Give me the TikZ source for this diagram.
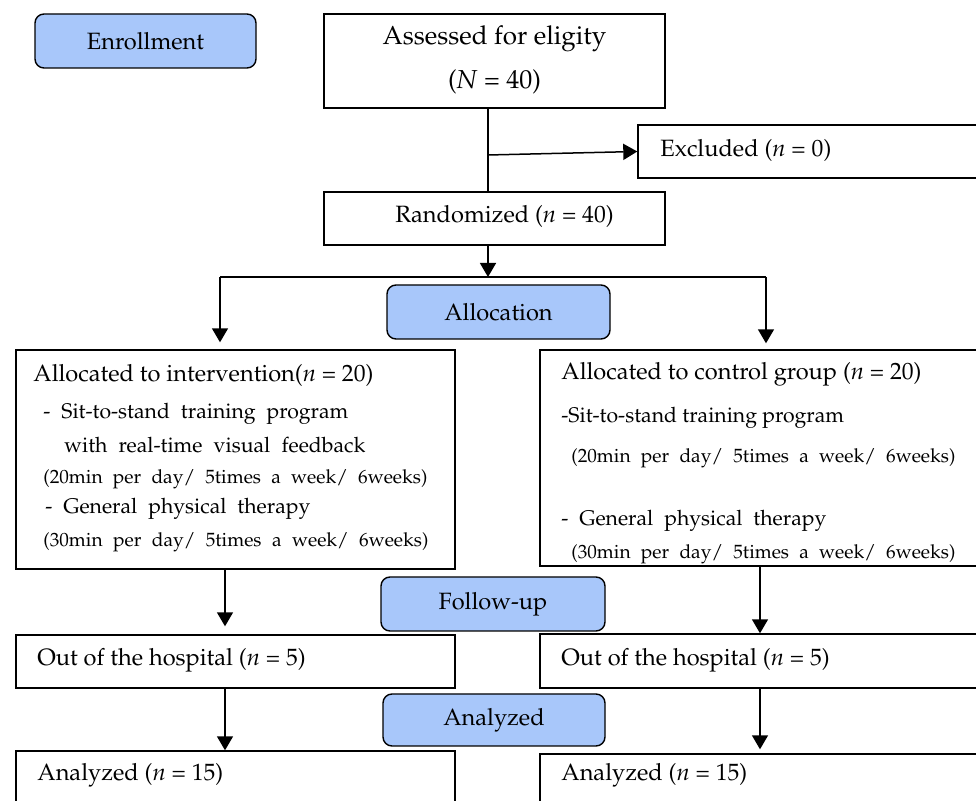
\documentclass[tikz,border=0pt]{standalone}
\usepackage[T1]{fontenc}
\usepackage{mathpazo}
\usetikzlibrary{arrows.meta}
\definecolor{phase}{RGB}{168,199,250}
\newcommand\fmain{\fontsize{11.8pt}{14pt}\selectfont}
\newcommand\fbig{\fontsize{13pt}{15pt}\selectfont}
\newcommand\fbody{\fontsize{10.6pt}{13pt}\selectfont}
\newcommand\fsmall{\fontsize{9.6pt}{12pt}\selectfont}
\begin{document}
\begin{tikzpicture}[x=0.5pt,y=-0.5pt,
  box/.style={draw, line width=0.7pt, inner sep=0pt, fill=white},
  phasebox/.style={draw, line width=0.7pt, inner sep=0pt, fill=phase, rounded corners=4.5pt, font=\fmain},
  txt/.style={inner sep=0pt, anchor=west, font=\fmain},
  btxt/.style={inner sep=0pt, anchor=west, font=\fbody},
  stxt/.style={inner sep=0pt, anchor=west, font=\fsmall},
  conn/.style={line width=0.75pt},
  arr/.style={line width=0.75pt, -{Triangle[length=7pt,width=8pt]}}]
\useasboundingbox (0,0) rectangle (976,801);
\clip (0,0) rectangle (976,801);

% boxes
\node[phasebox, minimum width=110.5pt, minimum height=27pt] (enroll) at (145.5,41) {Enrollment};
\node[box, minimum width=170.5pt, minimum height=47pt] (assess) at (494.5,61) {};
\node[box, minimum width=181pt, minimum height=26.5pt] (excl) at (819,151.5) {};
\node[box, minimum width=170.5pt, minimum height=26.5pt] (rand) at (494.5,218.5) {};
\node[phasebox, minimum width=111.5pt, minimum height=27pt] (alloc) at (498.5,312) {Allocation};
\node[box, minimum width=219.5pt, minimum height=109.5pt] (intL) at (235.5,459.5) {};
\node[box, minimum width=230pt, minimum height=108pt] (ctrlR) at (770,458) {};
\node[phasebox, minimum width=112pt, minimum height=27pt] (follow) at (493,604) {Follow-up};
\node[box, minimum width=219.5pt, minimum height=26.5pt] (outL) at (235.5,661.5) {};
\node[box, minimum width=230pt, minimum height=27pt] (outR) at (770,661) {};
\node[phasebox, minimum width=111pt, minimum height=26pt] (analy) at (494,720) {Analyzed};
\node[box, minimum width=219.5pt, minimum height=39.5pt] (anL) at (235.5,790.5) {};
\node[box, minimum width=230pt, minimum height=38pt] (anR) at (770,792) {};

% texts
\node[txt, anchor=center, font=\fbig] (t1) at (494.5,39) {Assessed for eligity};
\node[txt, anchor=center, font=\fbig] (t2) at (494.5,82) {(\textit{N} = 40)};
\node[txt] (t3) at (660,150) {Excluded (\textit{n} = 0)};
\node[txt] (t4) at (395,216) {Randomized (\textit{n} = 40)};

\node[txt] (l1) at (33,375) {Allocated to intervention(\textit{n} = 20)};
\node[btxt] (l2) at (43,414) {\makebox[152.5pt][s]{- Sit-to-stand training program}};
\node[btxt] (l3) at (64,445) {\makebox[150.5pt][s]{with real-time visual feedback}};
\node[stxt] (l4) at (43,479) {\makebox[192pt][s]{(20min per day/ 5times a week/ 6weeks)}};
\node[btxt] (l5) at (45,509) {\makebox[132.5pt][s]{- General physical therapy}};
\node[stxt] (l6) at (43,542) {\makebox[192.5pt][s]{(30min per day/ 5times a week/ 6weeks)}};

\node[txt] (r1) at (561,374) {Allocated to control group (\textit{n} = 20)};
\node[btxt] (r2) at (561,418) {-Sit-to-stand training program};
\node[stxt] (r3) at (571,458) {\makebox[192pt][s]{(20min per day/ 5times a week/ 6weeks)}};
\node[btxt] (r4) at (561,521) {\makebox[132.5pt][s]{- General physical therapy}};
\node[stxt] (r5) at (571,554) {\makebox[192pt][s]{(30min per day/ 5times a week/ 6weeks)}};

\node[txt] (o1) at (37,660) {Out of the hospital (\textit{n} = 5)};
\node[txt] (o2) at (561,660) {Out of the hospital (\textit{n} = 5)};
\node[txt] (a1) at (37,775) {Analyzed (\textit{n} = 15)};
\node[txt] (a2) at (561,775) {Analyzed (\textit{n} = 15)};

% connector coordinates
\coordinate (cA) at (488,0);
\coordinate (split) at (488,155);
\coordinate (cL1) at (220,277);
\coordinate (cR1) at (766,277);
\coordinate (cL2) at (225,0);
\coordinate (cR2) at (760,0);

% connectors
\draw[conn] (assess.south -| cA) -- (rand.north -| cA);
\draw[arr] (split) -- (excl.west);
\draw[arr] (rand.south -| cA) -- (cA |- cL1);
\draw[conn] (cL1) -- (cR1);
\draw[arr, shorten >=3.5pt] (cL1) -- (intL.north -| cL1);
\draw[arr, shorten >=3pt] (cR1) -- (ctrlR.north -| cR1);
\draw[arr, shorten >=4pt] (intL.south -| cL2) -- (outL.north -| cL2);
\draw[arr] (ctrlR.south -| cR2) -- (outR.north -| cR2);
\draw[arr] (outL.south -| cL2) -- (anL.north -| cL2);
\draw[arr, shorten >=2pt] (outR.south -| cR2) -- (anR.north -| cR2);
\end{tikzpicture}
\end{document}
